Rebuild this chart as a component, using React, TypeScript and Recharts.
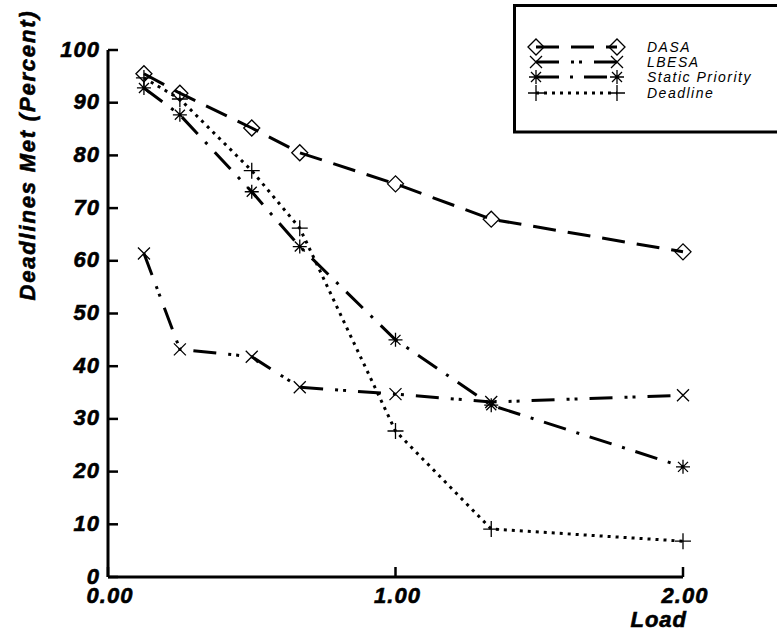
import { LineChart, Line, XAxis, YAxis, Legend } from "recharts";

// load values on the x axis
const loads = [0.125, 0.25, 0.5, 0.667, 1.0, 1.333, 2.0];

// deadlines met (percent) per algorithm
const dasa = [95.5, 91.8, 85.2, 80.5, 74.6, 67.9, 61.7];
const lbesa = [61.4, 43.2, 41.8, 36.0, 34.7, 33.2, 34.5];
const staticPriority = [92.8, 87.7, 73.1, 62.7, 45.0, 32.6, 20.9];
const deadline = [94.7, 90.7, 77.1, 66.2, 27.7, 9.1, 6.8];

const xTicks = [0, 1, 2];
const yTicks = [0, 10, 20, 30, 40, 50, 60, 70, 80, 90, 100];

const rows = loads.map((load, i) => ({
  load,
  dasa: dasa[i],
  lbesa: lbesa[i],
  staticPriority: staticPriority[i],
  deadline: deadline[i],
}));

const FONT = "'Liberation Sans', Arial, Helvetica, sans-serif";

const SERIES = [
  { key: "dasa", name: "DASA", marker: "diamond", dash: "23 12" },
  { key: "lbesa", name: "LBESA", marker: "cross", dash: "23 12 3 5 3 12" },
  { key: "staticPriority", name: "Static Priority", marker: "star", dash: "23 11 3 11" },
  { key: "deadline", name: "Deadline", marker: "plus", dash: "3 5" },
];

function Marker({ kind, cx, cy }: { kind: string; cx: number; cy: number }) {
  const s = { stroke: "#000", strokeWidth: 1.3, fill: "none" };
  if (kind === "diamond") {
    const r = 8;
    return <path d={`M${cx - r},${cy}L${cx},${cy - r}L${cx + r},${cy}L${cx},${cy + r}Z`} {...s} />;
  }
  if (kind === "cross") {
    const r = 6;
    return <path d={`M${cx - r},${cy - r}L${cx + r},${cy + r}M${cx - r},${cy + r}L${cx + r},${cy - r}`} {...s} />;
  }
  if (kind === "star") {
    const r = 7;
    const d = 5;
    return (
      <path
        d={`M${cx - r},${cy}L${cx + r},${cy}M${cx},${cy - r}L${cx},${cy + r}M${cx - d},${cy - d}L${cx + d},${cy + d}M${cx - d},${cy + d}L${cx + d},${cy - d}`}
        {...s}
      />
    );
  }
  const r = 8;
  return <path d={`M${cx - r},${cy}L${cx + r},${cy}M${cx},${cy - r}L${cx},${cy + r}`} {...s} />;
}

// heavy oblique labels, a thin stroke makes them closer to the original's black face
const labelStyle = {
  fontFamily: FONT,
  fontWeight: 700,
  fontStyle: "italic",
  fontSize: 22,
  letterSpacing: 1,
  fill: "#000",
  stroke: "#000",
  strokeWidth: 0.6,
};

function XTick({ x, y, payload }: any) {
  return (
    <g>
      <line x1={x} x2={x} y1={y} y2={y - 10} stroke="#000" strokeWidth={2.5} />
      <text x={x + 2} y={y + 18} textAnchor="middle" dominantBaseline="central" style={labelStyle}>
        {Number(payload.value).toFixed(2)}
      </text>
    </g>
  );
}

function YTick({ x, y, payload }: any) {
  return (
    <g>
      <line x1={x} x2={x + 10} y1={y} y2={y} stroke="#000" strokeWidth={2.5} />
      <text x={x - 8} y={y - 1} textAnchor="end" dominantBaseline="central" style={labelStyle}>
        {payload.value}
      </text>
    </g>
  );
}

function LegendBox() {
  const rowY = [43, 58, 73, 89];
  return (
    <svg width={264} height={130}>
      <path d="M264,1.5H1.5V128H264" fill="none" stroke="#000" strokeWidth={3} />
      {SERIES.map((s, i) => (
        <g key={s.key}>
          <line x1={23} x2={104} y1={rowY[i]} y2={rowY[i]} stroke="#000" strokeWidth={3} strokeDasharray={s.dash} />
          <Marker kind={s.marker} cx={23} cy={rowY[i]} />
          <Marker kind={s.marker} cx={104} cy={rowY[i]} />
          <text
            x={134}
            y={rowY[i]}
            dominantBaseline="central"
            style={{ fontFamily: FONT, fontStyle: "italic", fontSize: 14, letterSpacing: 1.5, fill: "#000" }}
          >
            {s.name}
          </text>
        </g>
      ))}
    </svg>
  );
}

export default function App() {
  return (
    <div style={{ position: "absolute", left: 0, top: 0, width: 777, height: 633, background: "#fff" }}>
      <LineChart width={777} height={633} data={rows} margin={{ top: 50, right: 94, bottom: 46, left: 98 }}>
        <XAxis
          type="number"
          dataKey="load"
          domain={[0, 2]}
          ticks={xTicks}
          interval={0}
          height={10}
          tickSize={0}
          tickMargin={0}
          tickLine={false}
          axisLine={{ stroke: "#000", strokeWidth: 3 }}
          tick={XTick}
        />
        <YAxis
          type="number"
          domain={[0, 100]}
          ticks={yTicks}
          interval={0}
          width={10}
          tickSize={0}
          tickMargin={0}
          tickLine={false}
          axisLine={{ stroke: "#000", strokeWidth: 3 }}
          tick={YTick}
        />
        <Legend
          layout="vertical"
          align="center"
          verticalAlign="middle"
          wrapperStyle={{ left: 513, top: 4, width: 264, height: 130 }}
          content={() => <LegendBox />}
        />
        {SERIES.map((s) => (
          <Line
            key={s.key}
            type="linear"
            dataKey={s.key}
            name={s.name}
            stroke="#000"
            strokeWidth={3}
            strokeDasharray={s.dash}
            isAnimationActive={false}
            dot={(p: any) => <Marker key={`${s.key}-${p.index}`} kind={s.marker} cx={p.cx} cy={p.cy} />}
            activeDot={false}
          />
        ))}
      </LineChart>
      <svg width={777} height={633} style={{ position: "absolute", left: 0, top: 0, pointerEvents: "none" }}>
        <text
          transform="translate(27,155) rotate(-90)"
          textAnchor="middle"
          dominantBaseline="central"
          style={{ ...labelStyle, fontSize: 22, letterSpacing: 1.8 }}
        >
          Deadlines Met (Percent)
        </text>
        <text x={687} y={619} textAnchor="end" dominantBaseline="central" style={labelStyle}>
          Load
        </text>
      </svg>
    </div>
  );
}
